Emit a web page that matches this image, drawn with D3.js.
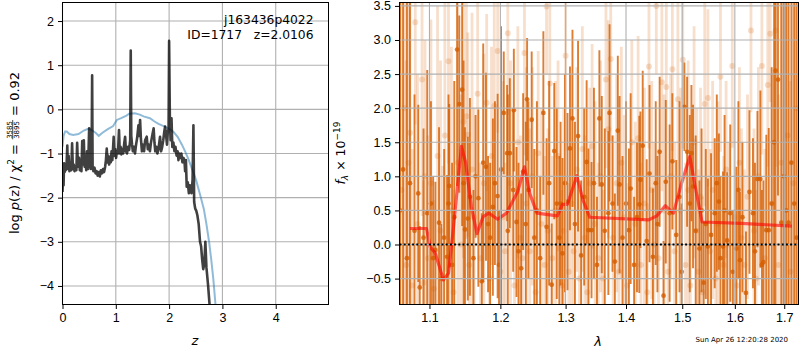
<!DOCTYPE html>
<html>
<head>
<meta charset="utf-8">
<script src="https://d3js.org/d3.v7.min.js"></script>
<style>
  body { margin: 0; background: #fff; }
  svg { font-family: "DejaVu Sans", sans-serif; }
</style>
</head>
<body>
<svg id="chart" width="800" height="350"></svg>
<script>
// ---- left panel: log p(z) ----
const pzZ = [
  0.000,0.010,0.020,0.030,0.040,0.050,0.060,0.075,0.090,0.100,
  0.115,0.130,0.150,0.165,0.180,0.195,0.210,0.225,0.240,0.260,
  0.275,0.290,0.310,0.325,0.340,0.355,0.370,0.385,0.400,0.415,
  0.430,0.445,0.460,0.480,0.500,0.515,0.530,0.545,0.556,0.565,
  0.580,0.600,0.620,0.640,0.660,0.680,0.700,0.720,0.740,0.760,
  0.780,0.800,0.815,0.830,0.845,0.860,0.875,0.890,0.905,0.920,
  0.935,0.950,0.960,0.975,0.990,1.005,1.020,1.040,1.060,1.075,
  1.090,1.105,1.120,1.140,1.160,1.175,1.190,1.210,1.230,1.250,
  1.270,1.280,1.290,1.305,1.320,1.340,1.360,1.380,1.400,1.425,
  1.440,1.456,1.470,1.490,1.510,1.530,1.550,1.580,1.600,1.620,
  1.640,1.660,1.690,1.710,1.725,1.740,1.760,1.780,1.800,1.830,
  1.850,1.870,1.890,1.910,1.925,1.940,1.960,1.975,1.990,2.000,
  2.015,2.030,2.045,2.060,2.080,2.100,2.120,2.140,2.160,2.175,
  2.190,2.210,2.230,2.250,2.270,2.290,2.300,2.315,2.330,2.350,
  2.370,2.390,2.420,2.440,2.456,2.470,2.490,2.510,2.530,2.555,
  2.580,2.600,2.620,2.640,2.660,2.680,2.700,2.730,2.770];
const pzLog = [
  -1.87,-1.55,-1.72,-1.22,-1.42,-1.28,-1.38,-1.30,-0.82,-1.35,
  -1.05,-1.40,-1.30,-1.38,-0.77,-1.35,-1.25,-1.40,-1.30,-1.38,
  -0.76,-1.30,-1.10,-1.38,-1.15,-1.40,-0.72,-1.25,-0.70,-1.30,
  -1.10,-1.38,-0.95,-1.35,-0.43,-1.20,-1.35,-1.25,0.77,-1.30,
  -1.40,-1.32,-1.45,-1.40,-1.50,-1.42,-1.52,-1.38,-1.45,-1.35,
  -1.42,-1.30,-1.15,-0.89,-1.20,-1.05,-1.25,-1.10,-1.20,-0.95,
  -1.15,-0.85,-0.62,-1.05,-0.90,-1.10,-0.95,-1.00,-0.47,-1.00,
  -0.85,-1.02,-0.90,-1.00,-0.75,-0.62,-0.95,-1.00,-0.85,-0.92,
  -0.70,1.33,-0.60,-0.80,-0.95,-0.85,-1.00,-0.80,-0.65,-0.36,
  -0.60,-0.24,-0.65,-0.95,-0.80,-0.95,-0.70,-0.62,-0.90,-0.80,
  -0.95,-0.75,-0.55,-0.43,-0.75,-0.95,-0.85,-1.00,-0.90,-0.62,
  -0.95,-0.85,-0.70,-0.50,-0.39,-0.55,-0.80,-0.50,-0.45,1.55,
  -0.30,-0.70,-0.20,-0.85,-0.75,-0.95,-0.85,-1.05,-0.95,-1.15,
  -1.00,-1.10,-1.00,-1.20,-1.10,-1.20,-1.40,-1.15,-1.75,-1.65,
  -1.90,-1.72,-1.90,-1.60,-0.36,-2.10,-2.25,-2.30,-2.40,-2.60,
  -3.00,-3.10,-3.40,-3.62,-3.50,-3.00,-3.58,-3.97,-4.60];
const priorZ = [0.00,0.02,0.05,0.08,0.13,0.20,0.30,0.40,0.48,0.55,0.62,0.68,0.75,0.85,0.95,
  1.02,1.10,1.20,1.25,1.36,1.45,1.52,1.64,1.72,1.80,1.92,2.00,2.08,2.16,2.24,2.30,2.36,
  2.44,2.51,2.58,2.65,2.70,2.75,2.79,2.83,2.87,2.90];
const priorLog = [-0.85,-0.60,-0.50,-0.50,-0.56,-0.58,-0.56,-0.48,-0.44,-0.47,-0.53,-0.60,-0.53,-0.45,-0.38,
  -0.24,-0.20,-0.14,-0.10,-0.09,-0.12,-0.16,-0.20,-0.27,-0.33,-0.39,-0.44,-0.51,-0.62,-0.80,-0.95,-1.12,
  -1.38,-1.62,-1.93,-2.25,-2.60,-3.00,-3.40,-3.85,-4.42,-4.75];
const zTicks = [0, 1, 2, 3, 4];
const logTicks = [-4, -3, -2, -1, 0, 1, 2];

// ---- right panel: G141 spectrum ----
const darkWave = [
  1.061,1.065,1.070,1.074,1.080,1.085,1.087,1.092,1.097,1.102,
  1.105,1.108,1.113,1.116,1.120,1.124,1.126,1.127,1.131,1.134,
  1.138,1.141,1.145,1.147,1.149,1.153,1.156,1.161,1.164,1.168,
  1.173,1.175,1.179,1.182,1.185,1.189,1.192,1.196,1.198,1.201,
  1.205,1.210,1.211,1.214,1.219,1.220,1.224,1.227,1.231,1.234,
  1.238,1.240,1.242,1.247,1.251,1.255,1.260,1.265,1.270,1.274,
  1.278,1.282,1.286,1.290,1.292,1.295,1.299,1.303,1.307,1.311,
  1.315,1.320,1.325,1.330,1.334,1.337,1.342,1.346,1.351,1.355,
  1.359,1.364,1.370,1.372,1.377,1.381,1.386,1.389,1.394,1.400,
  1.405,1.408,1.414,1.419,1.423,1.425,1.429,1.436,1.441,1.447,
  1.452,1.455,1.459,1.466,1.470,1.477,1.482,1.489,1.495,1.499,
  1.504,1.509,1.514,1.517,1.520,1.525,1.532,1.536,1.540,1.544,
  1.548,1.554,1.561,1.565,1.569,1.572,1.577,1.580,1.585,1.591,
  1.596,1.603,1.607,1.610,1.615,1.622,1.629,1.636,1.640,1.645,
  1.651,1.654,1.657,1.663,1.668,1.674,1.679,1.682,1.687,1.694,
  1.699,1.704,1.709,1.715,1.721,1.726];
const darkFlux = [
  0.5,1.1,-0.2,0.9,0.2,0.75,-0.63,0.1,0.46,0.6,
  -0.2,-0.08,0.32,-0.5,0.1,-0.18,0.6,0.86,-0.3,0.4,
  2.86,2.06,2.27,0.9,0.22,0.38,0.7,-0.2,1.0,0.68,
  -0.54,1.2,1.14,0.3,0.1,0.55,0.9,0.71,-0.3,1.1,
  1.93,1.34,0.2,1.34,0.8,1.97,0.33,-0.1,-0.35,1.07,
  0.3,2.13,0.8,1.83,0.1,0.5,-0.2,1.93,0.26,0.9,
  -0.59,1.37,0.6,0.1,0.6,-0.13,0.9,0.63,1.41,1.85,
  0.3,1.59,-0.16,0.7,1.21,0.21,0.21,0.9,-0.3,1.85,
  0.88,0.2,0.46,1.93,0.6,-0.25,1.67,0.88,0.1,0.6,
  0.21,0.82,-0.3,0.4,0.59,0.95,1.45,0.05,1.04,-0.18,
  0.9,0.3,1.36,-0.75,0.92,0.46,1.22,0.14,0.7,-0.4,
  2.02,1.36,0.6,1.34,0.85,0.2,-0.06,0.5,-0.56,0.3,
  -0.03,0.14,0.46,0.9,0.63,-0.2,-0.03,0.5,0.06,0.46,
  -0.4,-0.06,0.8,-0.23,0.4,-0.71,0.77,0.46,-0.1,0.96,
  0.96,-0.3,-0.26,0.21,0.21,0.6,1.5,2.55,2.42,0.32,
  1.0,0.5,0.32,1.2,0.6,0.1];
const darkErr = [
  6,6,6,5,2.0,1.3,0.9,1.6,2.1,1.5,
  1.2,1.0,1.4,0.8,1.3,1.2,1.6,1.2,1.5,2.0,
  2.0,1.3,2.0,1.8,1.5,1.2,1.45,1.0,0.9,1.3,
  1.0,1.75,1.38,1.0,1.1,1.3,1.2,1.5,0.8,2.1,
  0.9,1.0,2.0,1.1,1.2,0.9,1.1,1.3,1.1,1.15,
  1.5,0.9,1.3,1.0,1.3,1.6,1.2,1.2,1.3,1.5,
  0.9,1.0,1.4,1.2,1.2,1.4,1.6,1.3,1.2,1.3,
  1.5,1.4,1.1,1.3,1.2,1.2,1.0,1.4,1.0,1.0,
  1.3,1.5,1.2,1.3,1.0,1.0,1.1,1.3,1.2,1.5,
  1.2,1.4,1.0,1.1,1.3,1.0,1.1,1.2,1.3,1.0,
  1.2,1.0,1.1,0.8,1.2,1.3,1.0,1.1,1.4,1.0,
  0.65,1.1,1.3,1.0,1.2,1.4,1.0,1.2,0.9,1.1,
  1.0,1.2,1.1,1.3,1.0,1.2,1.1,1.4,1.0,1.3,
  0.9,1.2,1.3,1.0,1.1,0.9,1.2,1.1,1.3,1.0,
  1.3,1.1,1.2,1.4,1.5,2.0,3.0,4,1.7,5,
  5,5,4,5,5,5];
const lightWave = [
  1.063,1.067,1.069,1.072,1.074,1.077,1.081,1.084,1.090,1.092,
  1.094,1.098,1.102,1.106,1.111,1.115,1.118,1.121,1.126,1.130,
  1.133,1.139,1.143,1.147,1.151,1.153,1.155,1.159,1.162,1.167,
  1.171,1.176,1.180,1.184,1.187,1.191,1.196,1.200,1.204,1.207,
  1.211,1.215,1.221,1.226,1.230,1.233,1.236,1.239,1.244,1.248,
  1.253,1.257,1.262,1.267,1.270,1.272,1.275,1.279,1.284,1.288,
  1.294,1.297,1.300,1.305,1.309,1.313,1.318,1.322,1.327,1.331,
  1.335,1.339,1.343,1.348,1.353,1.357,1.361,1.366,1.370,1.374,
  1.378,1.384,1.388,1.392,1.397,1.402,1.410,1.416,1.421,1.426,
  1.432,1.437,1.440,1.445,1.449,1.453,1.457,1.463,1.467,1.471,
  1.474,1.479,1.482,1.486,1.492,1.497,1.501,1.506,1.511,1.515,
  1.522,1.527,1.530,1.534,1.538,1.542,1.548,1.552,1.557,1.563,
  1.567,1.572,1.578,1.583,1.588,1.595,1.599,1.604,1.609,1.613,
  1.619,1.625,1.632,1.638,1.642,1.647,1.654,1.660,1.666,1.671,
  1.675,1.682,1.688,1.694,1.700,1.707,1.713,1.719,1.725];
const lightFlux = [
  0.8,2.0,-0.3,1.2,1.64,-0.6,3.26,0.3,2.42,-0.56,
  1.0,-0.2,0.9,-0.65,1.3,0.2,-0.45,1.6,2.69,0.5,
  -0.7,1.2,0.0,1.8,1.88,1.61,-0.3,1.1,0.4,2.21,
  -0.2,0.9,2.08,-0.5,1.3,2.03,2.84,-0.4,0.4,-0.1,
  3.10,0.9,-0.6,1.5,0.1,-0.2,2.81,0.6,-0.1,1.0,
  -0.7,1.34,0.3,-0.3,3.49,0.2,2.36,-0.2,0.5,1.3,
  -0.6,0.2,2.77,-0.4,0.6,-0.1,1.1,-0.5,1.4,0.1,
  -0.7,0.9,1.44,0.3,-0.2,1.0,-0.5,2.42,1.69,2.72,
  0.1,0.9,-0.4,1.2,0.4,-0.6,1.5,0.3,1.56,-0.3,
  0.6,-0.7,2.61,0.8,0.0,3.50,-0.2,2.38,0.5,2.31,
  -0.4,1.0,2.57,-0.1,2.13,0.5,2.71,-0.3,0.8,-0.6,
  1.5,0.2,-0.4,0.7,-0.7,2.06,2.15,-0.1,0.8,-0.5,
  0.3,2.46,-0.3,1.1,0.0,2.62,0.4,-0.6,1.2,0.1,
  -0.3,0.7,3.14,0.2,-0.5,1.0,2.62,-0.2,2.34,3.09,
  0.6,3.14,-0.3,1.2,0.3,1.6,-0.4,0.9,2.0];
const lightErr = [
  4,3,3,2.5,2.5,2,1.5,2.2,2.0,1.5,
  2.0,1.8,2.4,1.3,2.2,2.5,1.6,2.0,1.5,2.4,
  1.5,2.5,2.2,2.0,1.8,1.5,1.8,2.3,1.6,1.5,
  1.4,1.9,1.3,1.5,1.6,1.6,1.2,1.5,2.0,1.3,
  1.2,1.8,1.6,1.7,1.5,1.2,1.5,2.0,1.8,1.6,
  1.4,1.5,1.7,1.6,1.0,1.5,1.4,1.5,1.9,1.4,
  1.4,1.8,1.4,1.3,1.9,1.6,1.5,1.3,1.8,1.5,
  1.4,1.4,1.5,1.8,1.4,1.7,1.3,1.3,1.6,1.2,
  1.5,1.6,1.4,1.7,1.5,1.5,1.5,1.5,1.5,1.5,
  1.7,1.3,1.2,1.6,1.5,1.0,1.6,1.6,1.7,1.4,
  1.4,1.5,1.2,1.6,1.5,1.8,1.3,1.5,1.9,1.6,
  1.7,1.8,1.5,1.6,1.4,1.5,1.3,1.5,1.6,1.5,
  1.8,1.1,1.6,1.3,1.5,1.2,1.6,1.4,1.4,1.6,
  1.4,1.5,1.2,1.5,1.3,1.6,1.3,1.6,1.2,1.0,
  1.9,2,2.5,3,4,3,2.8,4,3];
const modelWave = [1.074,1.096,1.101,1.108,1.119,1.126,1.133,1.144,1.150,1.158,1.166,1.175,
  1.183,1.196,1.209,1.219,1.226,1.236,1.244,1.255,1.287,1.295,1.303,1.318,1.328,1.339,
  1.439,1.454,1.469,1.484,1.497,1.514,1.524,1.537,1.613,1.716];
const modelFlux = [0.235,0.235,-0.035,-0.13,-0.52,-0.42,0.26,1.44,1.20,0.55,0.16,0.41,
  0.46,0.37,0.46,0.65,0.78,1.14,0.75,0.46,0.42,0.59,0.59,1.01,0.65,0.40,
  0.36,0.42,0.57,0.46,0.85,1.29,0.85,0.33,0.31,0.27];
const waveTicks = [1.1, 1.2, 1.3, 1.4, 1.5, 1.6, 1.7];
const fluxTicks = [-0.5, 0, 0.5, 1, 1.5, 2, 2.5, 3, 3.5];

const svg = d3.select('#chart');
const grizli = '#d55e00';
const gridColor = '#b0b0b0';
const tickFont = '12.5px';

function axisStyle(g) {
  g.select('.domain').remove();
  g.selectAll('.tick line').attr('stroke', '#000').attr('stroke-width', 1);
  g.selectAll('.tick text').attr('fill', '#000').style('font-size', tickFont);
}

// ---------- left panel ----------
const xL = d3.scaleLinear().domain([0, 4.99]).range([62.5, 328.5]);
const yL = d3.scaleLinear().domain([-4.42, 2.42]).range([304.5, 2.5]);

svg.append('clipPath').attr('id', 'clipL').append('rect')
  .attr('x', 62.5).attr('y', 2.5).attr('width', 266).attr('height', 302);

const gL = svg.append('g');
gL.selectAll('.gx').data(zTicks).enter().append('line')
  .attr('x1', d => xL(d)).attr('x2', d => xL(d)).attr('y1', 2.5).attr('y2', 304.5)
  .attr('stroke', gridColor).attr('stroke-width', 1.1);
gL.selectAll('.gy').data(logTicks).enter().append('line')
  .attr('y1', d => yL(d)).attr('y2', d => yL(d)).attr('x1', 62.5).attr('x2', 328.5)
  .attr('stroke', gridColor).attr('stroke-width', 1.1);

const lineL = d3.line().x(d => xL(d[0])).y(d => yL(d[1]));
const plotL = gL.append('g').attr('clip-path', 'url(#clipL)');
plotL.append('path').datum(priorZ.map((z, i) => [z, priorLog[i]]))
  .attr('d', lineL).attr('fill', 'none')
  .attr('stroke', '#1f77b4').attr('stroke-opacity', 0.5).attr('stroke-width', 2);
plotL.append('path').datum(pzZ.map((z, i) => [z, pzLog[i]]))
  .attr('d', lineL).attr('fill', 'none')
  .attr('stroke', '#000').attr('stroke-opacity', 0.75).attr('stroke-width', 2.6)
  .attr('stroke-linejoin', 'round');

gL.append('rect').attr('x', 62.5).attr('y', 2.5).attr('width', 266).attr('height', 302)
  .attr('fill', 'none').attr('stroke', '#000').attr('stroke-width', 1);

gL.append('g').attr('transform', 'translate(0,304.5)')
  .call(d3.axisBottom(xL).tickValues(zTicks).tickFormat(d3.format('d')).tickSize(4.5).tickPadding(4))
  .call(axisStyle);
gL.append('g').attr('transform', 'translate(62.5,0)')
  .call(d3.axisLeft(yL).tickValues(logTicks).tickFormat(d3.format('d')).tickSize(4.5).tickPadding(4))
  .call(axisStyle);

gL.append('text').attr('x', 313.5).attr('y', 24).attr('text-anchor', 'end')
  .style('font-size', '12.3px').text('j163436p4022');
gL.append('text').attr('x', 313.5).attr('y', 39).attr('text-anchor', 'end')
  .style('font-size', '12.3px').style('white-space', 'pre').text('ID=1717   z=2.0106');

gL.append('text').attr('x', 195).attr('y', 345).attr('text-anchor', 'middle')
  .style('font-size', '13px').style('font-style', 'italic').text('z');

// y label with the chi2 fraction
const lab = svg.append('g').attr('transform', 'translate(19,153) rotate(-90)');
const t1 = lab.append('text').attr('x', 0).attr('y', 0).style('font-size', '13px');
t1.append('tspan').text('log ');
t1.append('tspan').style('font-style', 'italic').text('p');
t1.append('tspan').text('(z) / χ');
t1.append('tspan').attr('dy', -5).style('font-size', '9px').text('2');
t1.append('tspan').attr('dy', 5).style('white-space', 'pre').text(' = ');
const w1 = t1.node().getComputedTextLength();
const num = lab.append('text').attr('x', w1 + 1).attr('y', -7.4).style('font-size', '7px').text('3585');
const den = lab.append('text').attr('x', w1 + 1).attr('y', -0.4).style('font-size', '7px').text('3895');
const fw = Math.max(num.node().getComputedTextLength(), den.node().getComputedTextLength()) + 2;
lab.append('line').attr('x1', w1 + 0.5).attr('x2', w1 + fw).attr('y1', -6.3).attr('y2', -6.3)
  .attr('stroke', '#000').attr('stroke-width', 0.7);
const t2 = lab.append('text').attr('x', w1 + fw).attr('y', 0).style('font-size', '13px')
  .style('white-space', 'pre').text(' = 0.92');
const wTot = w1 + fw + t2.node().getComputedTextLength();
lab.selectAll('text, line').attr('transform', `translate(${-wTot / 2},0)`);

// ---------- right panel ----------
const xR = d3.scaleLog().domain([1.0603, 1.730]).range([399.5, 798.5]);
const yR = d3.scaleLinear().domain([-0.88, 3.55]).range([304.5, 2.5]);

svg.append('clipPath').attr('id', 'clipR').append('rect')
  .attr('x', 399.5).attr('y', 2.5).attr('width', 399).attr('height', 302);
const gR = svg.append('g');
const plotR = gR.append('g').attr('clip-path', 'url(#clipR)');

function errorbars(g, wave, flux, err, opacity, width, r) {
  const pts = wave.map((w, i) => ({ w, f: flux[i], e: err[i] }));
  g.append('g').selectAll('line').data(pts).enter().append('line')
    .attr('x1', d => xR(d.w)).attr('x2', d => xR(d.w))
    .attr('y1', d => yR(d.f - d.e)).attr('y2', d => yR(d.f + d.e))
    .attr('stroke', grizli).attr('stroke-opacity', opacity).attr('stroke-width', width);
  g.append('g').selectAll('circle').data(pts).enter().append('circle')
    .attr('cx', d => xR(d.w)).attr('cy', d => yR(d.f)).attr('r', r)
    .attr('fill', grizli).attr('fill-opacity', opacity);
}
errorbars(plotR, lightWave, lightFlux, lightErr, 0.2, 2.8, 3);
errorbars(plotR, darkWave, darkFlux, darkErr, 0.8, 1.9, 2.4);

plotR.append('path').datum(modelWave.map((w, i) => [w, modelFlux[i]]))
  .attr('d', d3.line().x(d => xR(d[0])).y(d => yR(d[1])))
  .attr('fill', 'none').attr('stroke', '#ff0000').attr('stroke-opacity', 0.6)
  .attr('stroke-width', 3.2).attr('stroke-linejoin', 'round');

gR.selectAll('.gx').data(waveTicks).enter().append('line')
  .attr('x1', d => xR(d)).attr('x2', d => xR(d)).attr('y1', 2.5).attr('y2', 304.5)
  .attr('stroke', gridColor).attr('stroke-width', 1.1);
gR.selectAll('.gy').data(fluxTicks).enter().append('line')
  .attr('y1', d => yR(d)).attr('y2', d => yR(d)).attr('x1', 399.5).attr('x2', 798.5)
  .attr('stroke', gridColor).attr('stroke-width', 1.1);

gR.append('line').attr('x1', 399.5).attr('x2', 798.5).attr('y1', yR(0)).attr('y2', yR(0))
  .attr('stroke', '#000').attr('stroke-width', 2).attr('stroke-dasharray', '2,2.2');

gR.append('rect').attr('x', 399.5).attr('y', 2.5).attr('width', 399).attr('height', 302)
  .attr('fill', 'none').attr('stroke', '#000').attr('stroke-width', 1);

gR.append('g').attr('transform', 'translate(0,304.5)')
  .call(d3.axisBottom(xR).tickValues(waveTicks).tickFormat(d3.format('.1f')).tickSize(4.5).tickPadding(4))
  .call(axisStyle);
gR.append('g').attr('transform', 'translate(399.5,0)')
  .call(d3.axisLeft(yR).tickValues(fluxTicks).tickFormat(d3.format('.1f')).tickSize(4.5).tickPadding(4))
  .call(axisStyle);

gR.append('text').attr('x', 598).attr('y', 346).attr('text-anchor', 'middle')
  .style('font-size', '13px').style('font-style', 'italic').text('λ');

const ylabR = gR.append('text').attr('transform', 'translate(345,153) rotate(-90)')
  .attr('text-anchor', 'middle').style('font-size', '12.5px');
ylabR.append('tspan').style('font-style', 'italic').text('f');
ylabR.append('tspan').attr('dy', 3).style('font-size', '9px').style('font-style', 'italic').text('λ');
ylabR.append('tspan').attr('dy', -3).style('white-space', 'pre').text(' × 10');
ylabR.append('tspan').attr('dy', -5).style('font-size', '9px').text('−19');

svg.append('text').attr('x', 788).attr('y', 342).attr('text-anchor', 'end')
  .style('font-size', '7px').text('Sun Apr 26 12:20:28 2020');
</script>
</body>
</html>
